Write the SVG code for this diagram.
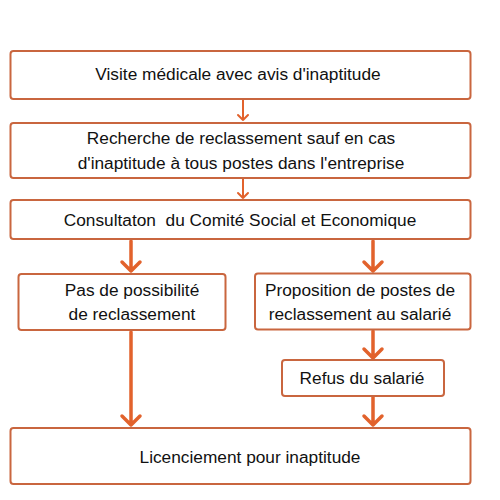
<svg xmlns="http://www.w3.org/2000/svg" width="500" height="500" viewBox="0 0 500 500">
<defs>
<style>
.box{fill:#fff;stroke:#c9663f;stroke-width:2}
.t{font-family:"Liberation Sans",Arial,sans-serif;font-size:17.3px;fill:#111;text-anchor:middle;white-space:pre}
.a{stroke:#e2622c;fill:none;stroke-linecap:round;stroke-linejoin:round}
.big{stroke-width:3.5}
.sm{stroke-width:2}
</style>
</defs>
<rect width="500" height="500" fill="#fff"/>
<g id="connectors">
<path class="a sm" d="M243 100V120M238 115L243 120L248 115"/>
<path class="a sm" d="M243 179V198M238 193L243 198L248 193"/>
<path class="a big" d="M131 241V271M122 262L131 271L140 262"/>
<path class="a big" d="M373 241V271M364 262L373 271L382 262"/>
<path class="a big" d="M373 331V358M364 349L373 358L382 349"/>
<path class="a big" d="M373 397V425M364 416L373 425L382 416"/>
<path class="a big" d="M131 332V425M122 416L131 425L140 416"/>
</g>
<g id="n1"><rect class="box" x="10.5" y="51" width="460" height="48" rx="3"/><text class="t" x="238" y="80">Visite médicale avec avis d'inaptitude</text></g>
<g id="n2"><rect class="box" x="10.5" y="123" width="460" height="55" rx="3"/><text class="t" x="241" y="144">Recherche de reclassement sauf en cas</text><text class="t" x="241" y="169">d'inaptitude à tous postes dans l'entreprise</text></g>
<g id="n3"><rect class="box" x="10.5" y="200" width="460" height="39" rx="3"/><text class="t" x="240" y="226" xml:space="preserve">Consultaton  du Comité Social et Economique</text></g>
<g id="n4"><rect class="box" x="18.5" y="274" width="207" height="56" rx="3"/><text class="t" x="132" y="296">Pas de possibilité</text><text class="t" x="132" y="320">de reclassement</text></g>
<g id="n5"><rect class="box" x="255" y="273.5" width="215.5" height="56" rx="3"/><text class="t" x="360" y="296">Proposition de postes de</text><text class="t" x="360" y="320">reclassement au salarié</text></g>
<g id="n6"><rect class="box" x="282" y="360" width="162" height="36" rx="3"/><text class="t" x="362" y="384">Refus du salarié</text></g>
<g id="n7"><rect class="box" x="10.5" y="428" width="460" height="56" rx="3"/><text class="t" x="250" y="463">Licenciement pour inaptitude</text></g>
</svg>
